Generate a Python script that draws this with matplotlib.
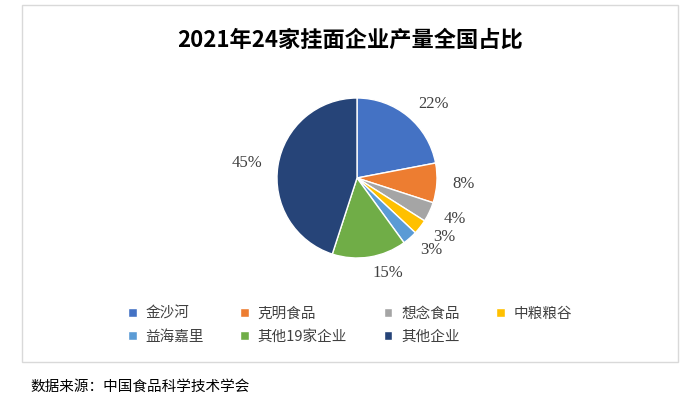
import matplotlib
matplotlib.use("Agg")
import matplotlib.pyplot as plt
from matplotlib.patches import Rectangle

plt.rcParams['font.family'] = ['Noto Sans CJK SC', 'DejaVu Sans']

categories = ["金沙河", "克明食品", "想念食品", "中粮粮谷", "益海嘉里", "其他19家企业", "其他企业"]
values = [22, 8, 4, 3, 3, 15, 45]
labels = ["22%", "8%", "4%", "3%", "3%", "15%", "45%"]
colors = ["#4472C4", "#ED7D31", "#A5A5A5", "#FFC000", "#5B9BD5", "#70AD47", "#264478"]

fig = plt.figure(figsize=(7, 4), dpi=100)
fig.patches.append(Rectangle((22/700, 1-362/400), 656/700, 357/400, transform=fig.transFigure,
                             fill=False, edgecolor="#D9D9D9", lw=1))
fig.text(0.5, 1-40/400, "2021年24家挂面企业产量全国占比", ha="center", va="center",
         fontsize=16, fontweight="bold", color="#000000")

ax = fig.add_axes([(357-100)/700, 1-(178+100)/400, 200/700, 200/400])
wedges, texts = ax.pie(values, colors=colors, startangle=90, counterclock=False,
                       labels=labels, labeldistance=1.2,
                       wedgeprops=dict(edgecolor="white", linewidth=1),
                       textprops=dict(fontsize=12, family="Liberation Serif", color="#404040"))
ax.set_aspect("equal")

order = [0, 4, 1, 5, 2, 6, 3]
leg = fig.legend([wedges[i] for i in order], [categories[i] for i in order],
                 loc="center", bbox_to_anchor=(0.5, 1-325/400), ncol=4,
                 frameon=False, fontsize=10.5, handlelength=0.6, handleheight=0.6,
                 columnspacing=2.5, handletextpad=0.6, labelspacing=0.6)
for t in leg.get_texts():
    t.set_color("#404040")
fig.text(30/700, 1-387/400, "数据来源：中国食品科学技术学会", ha="left", va="center", fontsize=10.5)
fig.savefig("out.png", dpi=100)
